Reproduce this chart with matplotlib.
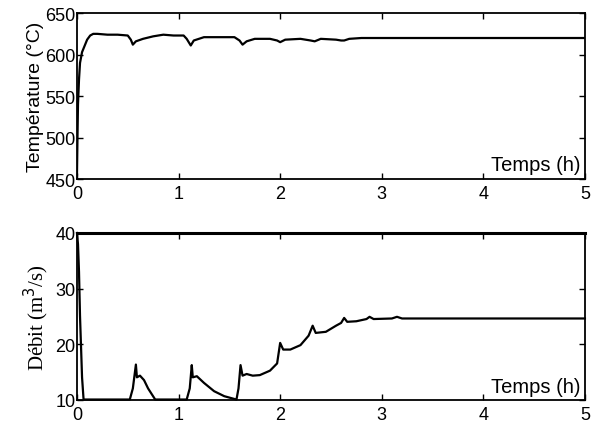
import matplotlib
matplotlib.use("Agg")
from matplotlib import pyplot as plt

# temperature (°C) vs time (h)
t_temp = [0, 0.005, 0.01, 0.02, 0.03, 0.05, 0.08, 0.1, 0.13, 0.16, 0.2, 0.3, 0.4, 0.5,
          0.53, 0.55, 0.58, 0.65, 0.75, 0.85, 0.95, 1.05, 1.08, 1.12, 1.15, 1.25, 1.4,
          1.55, 1.6, 1.63, 1.67, 1.75, 1.9, 1.97, 2.0, 2.05, 2.2, 2.3, 2.34, 2.4, 2.55,
          2.6, 2.63, 2.68, 2.8, 5]
temp = [455, 500, 540, 570, 590, 603, 612, 618, 623, 625, 625, 624, 624, 623,
        618, 612, 616, 619, 622, 624, 623, 623, 619, 611, 617, 621, 621,
        621, 617, 612, 616, 619, 619, 617, 615, 618, 619, 617, 616, 619, 618,
        617, 617, 619, 620, 620]

# flow (m3/s) vs time (h)
t_flow = [0, 0.01, 0.02, 0.03, 0.05, 0.065, 0.52, 0.55, 0.58, 0.59, 0.62, 0.66, 0.7, 0.77,
          1.08, 1.11, 1.13, 1.14, 1.18, 1.25, 1.35, 1.45, 1.57, 1.59, 1.61, 1.63, 1.67,
          1.73, 1.8, 1.9, 1.97, 2.0, 2.03, 2.1, 2.2, 2.28, 2.32, 2.35, 2.45, 2.55, 2.6,
          2.63, 2.66, 2.75, 2.85, 2.88, 2.92, 3.1, 3.15, 3.2, 5]
flow = [40, 38, 33, 25, 14, 10, 10, 12, 16.3, 14, 14.3, 13.5, 12, 10,
        10, 12, 16.2, 14, 14.2, 13, 11.5, 10.6, 10, 12, 16.2, 14.3, 14.6,
        14.3, 14.4, 15.2, 16.5, 20.2, 19, 19, 19.8, 21.5, 23.3, 22, 22.2, 23.3, 23.8,
        24.7, 24, 24.1, 24.5, 24.9, 24.5, 24.6, 24.9, 24.6, 24.6]

fig = plt.figure(figsize=(5.99, 4.27), dpi=100)
ax1 = fig.add_axes([0.1285, 0.578, 0.848, 0.389])
ax2 = fig.add_axes([0.1285, 0.062, 0.848, 0.39])

ax1.plot(t_temp, temp, color="black", linewidth=1.6)
ax1.set_xlim(0, 5)
ax1.set_ylim(450, 650)
ax1.set_yticks([450, 500, 550, 600, 650])
ax1.set_ylabel("Température (°C)", fontsize=14, family="Liberation Sans", labelpad=1)
ax1.text(4.96, 456, "Temps (h)", ha="right", va="bottom", fontsize=14.5, family="Liberation Sans")

ax2.plot(t_flow, flow, color="black", linewidth=1.6, clip_on=False)
ax2.set_xlim(0, 5)
ax2.set_ylim(10, 40)
ax2.set_yticks([10, 20, 30, 40])
ax2.set_ylabel("Débit (m$^3$/s)", fontsize=15, family="Liberation Serif", labelpad=3)
ax2.text(4.96, 10.6, "Temps (h)", ha="right", va="bottom", fontsize=14.5, family="Liberation Sans")

for ax in (ax1, ax2):
    ax.set_xticks([0, 1, 2, 3, 4, 5])
    ax.tick_params(direction="in", top=True, right=True, length=4, width=1,
                   labelsize=13)
    ax.tick_params(axis="x", pad=4.5)
    ax.tick_params(axis="y", pad=1)
    for lab in ax.get_xticklabels() + ax.get_yticklabels():
        lab.set_family("Liberation Sans")
    for s in ax.spines.values():
        s.set_linewidth(1.3)
ax2.spines["top"].set_linewidth(2.2)

fig.savefig("out.png", dpi=100)
